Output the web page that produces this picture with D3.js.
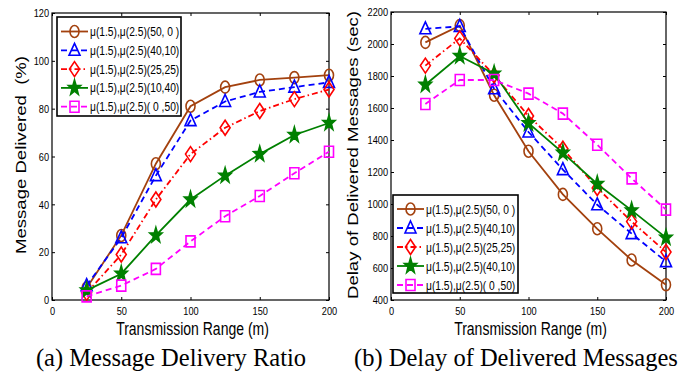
<!DOCTYPE html>
<html>
<head>
<meta charset="utf-8">
<script src="https://cdn.jsdelivr.net/npm/d3@7"></script>
<style>
  body { margin: 0; background: #fff; }
  svg { display: block; }
</style>
</head>
<body>
<div id="fig"></div>
<script>
// x values shared by both panels
var ranges = [25, 50, 75, 100, 125, 150, 175, 200];

// legend labels (the right panel repeats "(40,10)" in the 4th entry, as in the original)
var namesA = ["μ(1.5),μ(2.5)(50, 0 )", "μ(1.5),μ(2.5)(40,10)", "μ(1.5),μ(2.5)(25,25)", "μ(1.5),μ(2.5)(10,40)", "μ(1.5),μ(2.5)( 0 ,50)"];
var namesB = ["μ(1.5),μ(2.5)(50, 0 )", "μ(1.5),μ(2.5)(40,10)", "μ(1.5),μ(2.5)(25,25)", "μ(1.5),μ(2.5)(40,10)", "μ(1.5),μ(2.5)( 0 ,50)"];

// (a) message delivered (%)
var deliv50_0 = [5, 27, 57, 81, 89, 92, 93, 94];
var deliv40_10 = [6, 26, 52, 75, 83, 87, 89, 91];
var deliv25_25 = [3, 19, 42, 61, 72, 79, 84, 88];
var deliv10_40 = [4, 11, 27, 42, 52, 61, 69, 74];
var deliv0_50 = [1.5, 6, 13, 24.5, 35, 43.5, 53, 62];

// (b) delay of delivered messages (sec)
var delay50_0 = [2010, 2115, 1680, 1330, 1060, 845, 650, 495];
var delay40_10 = [2095, 2110, 1720, 1450, 1215, 995, 815, 640];
var delay25_25 = [1865, 2035, 1805, 1550, 1345, 1100, 890, 700];
var delay10_40 = [1745, 1925, 1815, 1505, 1320, 1125, 960, 790];
var delay0_50 = [1625, 1775, 1775, 1690, 1565, 1370, 1160, 965];

var xTicks = [0, 50, 100, 150, 200];
var yTicksA = [0, 20, 40, 60, 80, 100, 120];
var yTicksB = [400, 600, 800, 1000, 1200, 1400, 1600, 1800, 2000, 2200];

// line styles per series: colour, dash, marker
var styles = [
  {color: "#a3410e", dash: null, marker: "circle"},
  {color: "#0000ff", dash: "6,4", marker: "triangle"},
  {color: "#ff0000", dash: "6,3,1.5,3", marker: "diamond"},
  {color: "#008000", dash: null, marker: "star"},
  {color: "#ff00ff", dash: "6,4", marker: "square"}
];

var sans = "Liberation Sans, Arial, sans-serif";
var serif = "Liberation Serif, Times New Roman, serif";

var svg = d3.select("#fig").append("svg")
  .attr("width", 697)
  .attr("height", 375);

// squeeze text horizontally (the figure looks vertically stretched)
function squeeze(sel, k) {
  sel.each(function() {
    var w = this.getComputedTextLength();
    d3.select(this).attr("textLength", w * k).attr("lengthAdjust", "spacingAndGlyphs");
  });
}

function markerPath(type) {
  if (type == "circle") {
    return "M-4.5,0 A4.5,6 0 1,0 4.5,0 A4.5,6 0 1,0 -4.5,0 Z";
  }
  if (type == "triangle") return "M0,-7 L5.5,5 L-5.5,5 Z";
  if (type == "diamond") return "M0,-7.5 L5,0 L0,7.5 L-5,0 Z";
  if (type == "square") return "M-4.5,-5.5 L4.5,-5.5 L4.5,5.5 L-4.5,5.5 Z";
  // pentagram
  var pts = [];
  for (var i = 0; i < 10; i++) {
    var r = i % 2 == 0 ? 1 : 0.4;
    var a = -Math.PI / 2 + i * Math.PI / 5;
    pts.push([6.5 * r * Math.cos(a), 8 * r * Math.sin(a)]);
  }
  return "M" + pts.map(function(p) { return p[0].toFixed(2) + "," + p[1].toFixed(2); }).join("L") + "Z";
}

function drawMarker(g, st, x, y) {
  g.append("path")
    .attr("d", markerPath(st.marker))
    .attr("transform", "translate(" + x + "," + y + ")")
    .attr("fill", st.marker == "star" ? st.color : "none")
    .attr("stroke", st.color)
    .attr("stroke-width", 1.6);
}

function panel(opt) {
  var x = d3.scaleLinear().domain([0, 200]).range([opt.left, opt.right]);
  var y = d3.scaleLinear().domain(opt.yDomain).range([opt.bottom, opt.top]);
  var g = svg.append("g");

  // frame
  g.append("rect")
    .attr("x", opt.left).attr("y", opt.top)
    .attr("width", opt.right - opt.left).attr("height", opt.bottom - opt.top)
    .attr("fill", "none").attr("stroke", "#000").attr("stroke-width", 1.2);

  // axes with inward ticks
  var xb = g.append("g").attr("transform", "translate(0," + opt.bottom + ")")
    .call(d3.axisBottom(x).tickValues(xTicks).tickSizeInner(-3).tickSizeOuter(0).tickPadding(4));
  g.append("g").attr("transform", "translate(0," + opt.top + ")")
    .call(d3.axisTop(x).tickValues(xTicks).tickSizeInner(-3).tickSizeOuter(0).tickFormat(""));
  g.append("g").attr("transform", "translate(" + opt.left + ",0)")
    .call(d3.axisLeft(y).tickValues(opt.yTicks).tickFormat(d3.format("d"))
      .tickSizeInner(-3).tickSizeOuter(0).tickPadding(3));
  g.append("g").attr("transform", "translate(" + opt.right + ",0)")
    .call(d3.axisRight(y).tickValues(opt.yTicks).tickSizeInner(-3).tickSizeOuter(0).tickFormat(""));
  g.selectAll(".domain").remove();
  g.selectAll(".tick line").attr("stroke", "#000");
  g.selectAll(".tick text")
    .style("font-family", sans)
    .style("font-size", "11.5px").attr("fill", "#000");
  xb.selectAll("text").attr("dy", "0.95em");
  squeeze(g.selectAll(".tick text"), 0.8);

  // series
  var line = d3.line().x(function(d) { return x(d[0]); }).y(function(d) { return y(d[1]); });
  opt.series.forEach(function(vals, i) {
    var st = styles[i];
    var pts = ranges.map(function(r, j) { return [r, vals[j]]; });
    g.append("path")
      .attr("d", line(pts))
      .attr("fill", "none")
      .attr("stroke", st.color)
      .attr("stroke-width", 1.8)
      .attr("stroke-dasharray", st.dash);
    pts.forEach(function(p) { drawMarker(g, st, x(p[0]), y(p[1])); });
  });

  // axis titles
  var xt = g.append("text")
    .attr("x", (opt.left + opt.right) / 2 + 2).attr("y", 335)
    .attr("text-anchor", "middle")
    .style("font-family", sans).style("font-size", "17.5px")
    .text("Transmission Range (m)");
  squeeze(xt, 0.8);
  g.append("text")
    .attr("transform", "translate(" + opt.yTitleX + "," + opt.yTitleY + ") rotate(-90)")
    .attr("text-anchor", "middle")
    .style("font-family", sans).style("font-size", "14px")
    .attr("textLength", opt.yTitleLen).attr("lengthAdjust", "spacingAndGlyphs")
    .style("white-space", "pre")
    .text(opt.yTitle);

  // caption
  g.append("text")
    .attr("x", opt.capX).attr("y", 366)
    .attr("text-anchor", "middle")
    .style("font-family", serif)
    .style("font-size", "24.5px")
    .text(opt.caption);

  // legend
  var L = opt.legend;
  g.append("rect")
    .attr("x", L.x).attr("y", L.y).attr("width", L.w).attr("height", L.h)
    .attr("fill", "#fff").attr("stroke", "#000").attr("stroke-width", 1.6);
  opt.names.forEach(function(name, i) {
    var st = styles[i];
    var yy = L.y + L.first + i * L.step;
    g.append("line")
      .attr("x1", L.x + 4).attr("x2", L.x + 31)
      .attr("y1", yy).attr("y2", yy)
      .attr("stroke", st.color).attr("stroke-width", 1.8)
      .attr("stroke-dasharray", st.dash);
    drawMarker(g, st, L.x + 17.5, yy);
    var t = g.append("text")
      .attr("x", L.x + 33).attr("y", yy + 4.5)
      .style("font-family", sans).style("font-size", "12.5px")
      .text(name);
    squeeze(t, 0.82);
  });
}

panel({
  left: 52, right: 329, top: 13, bottom: 300,
  yDomain: [0, 120], yTicks: yTicksA,
  series: [deliv50_0, deliv40_10, deliv25_25, deliv10_40, deliv0_50],
  names: namesA,
  yTitle: "Message Delivered  (%)", yTitleX: 26, yTitleY: 155, yTitleLen: 198,
  caption: "(a) Message Delivery Ratio", capX: 171,
  legend: {x: 57, y: 17, w: 124, h: 99, first: 14.5, step: 18.8}
});

panel({
  left: 391, right: 666, top: 12, bottom: 300,
  yDomain: [400, 2200], yTicks: yTicksB,
  series: [delay50_0, delay40_10, delay25_25, delay10_40, delay0_50],
  names: namesB,
  yTitle: "Delay of Delivered Messages (sec)", yTitleX: 358, yTitleY: 155, yTitleLen: 288,
  caption: "(b) Delay of Delivered Messages", capX: 516,
  legend: {x: 393, y: 195, w: 125, h: 98, first: 14, step: 19}
});
</script>
</body>
</html>
